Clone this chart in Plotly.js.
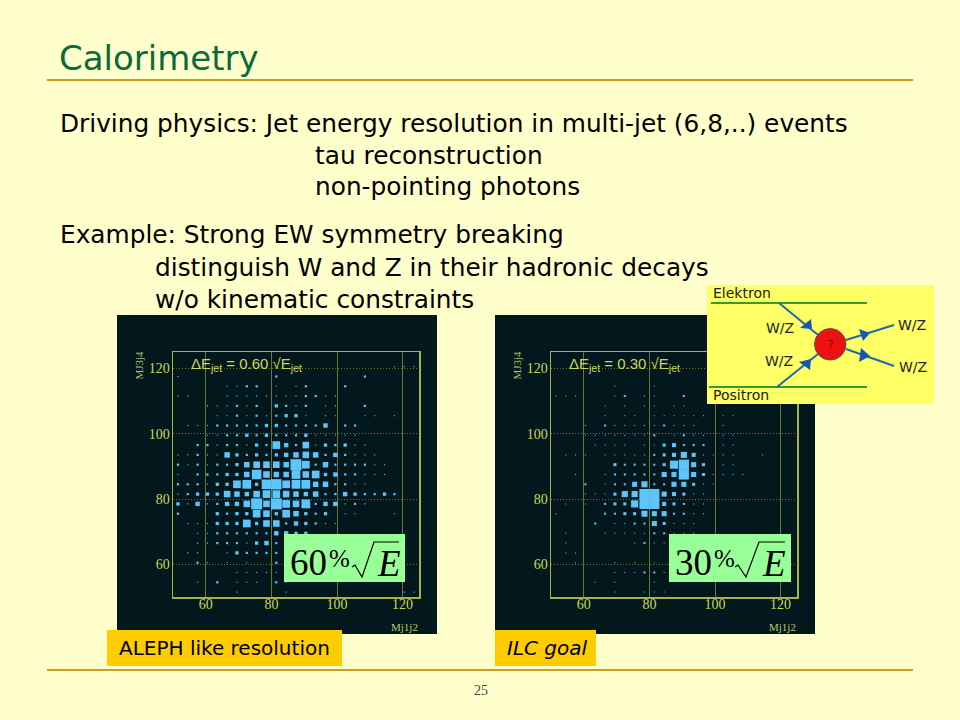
<!DOCTYPE html>
<html><head><meta charset="utf-8">
<script src="https://cdn.plot.ly/plotly-3.0.1.min.js"></script>
<style>html,body{margin:0;padding:0;background:#ffffcc}</style></head>
<body><div id="chart" style="width:960px;height:720px"></div>
<script>
// Bin centres of the two dijet-mass axes (GeV)
const massBins = [51.5,54.5,57.5,60.5,63.5,66.5,69.5,72.5,75.5,78.5,81.5,84.5,87.5,90.5,93.5,96.5,99.5,102.5,105.5,108.5,111.5,114.5,117.5,120.5,123.5];
const tickValues = [60,80,100,120];
// Box content per bin; rows run from low MJ3j4 to high MJ3j4
const counts60 = [
[0,0,0,0,0,0,1,0,0,0,0,1,0,0,0,0,0,0,0,0,0,0,0,1,1],
[0,0,1,0,4,0,1,1,1,0,4,1,0,0,0,0,0,0,0,0,0,0,0,0,0],
[0,0,0,0,0,0,1,1,1,1,1,1,0,0,0,0,0,0,0,0,0,0,0,0,0],
[0,0,4,1,0,1,0,1,0,0,4,0,0,0,0,0,0,0,0,0,0,0,0,0,0],
[0,1,1,0,0,1,9,4,4,4,4,0,0,0,0,0,0,0,0,0,0,0,0,0,0],
[0,0,1,1,4,4,4,1,9,16,4,0,0,0,0,0,0,0,0,0,0,0,0,0,0],
[0,0,1,1,4,4,4,4,4,4,16,16,9,9,0,0,0,0,0,0,0,0,0,0,0],
[0,1,1,1,9,9,9,49,9,36,36,4,16,9,4,1,1,0,0,0,0,0,0,0,0],
[4,0,0,0,9,4,9,9,49,36,9,49,25,9,4,9,0,1,1,0,0,0,1,0,0],
[9,1,16,1,4,16,16,36,100,36,100,49,36,64,4,16,16,1,4,1,0,0,0,0,0],
[1,4,9,9,9,36,25,16,36,49,49,36,25,16,25,4,4,16,9,4,4,9,4,0,0],
[4,4,4,1,9,9,49,64,9,76,88,49,64,64,25,25,4,4,1,1,0,0,0,0,0],
[1,0,4,4,4,9,9,25,76,36,25,25,64,36,49,9,16,4,4,1,1,1,0,0,0],
[4,1,4,1,4,4,9,25,36,36,36,25,100,49,4,25,4,4,4,4,1,1,0,0,0],
[1,1,4,1,1,25,9,4,9,4,9,16,25,36,25,4,16,4,1,1,1,0,0,0,0],
[0,0,4,4,1,4,4,1,9,4,49,16,4,36,1,9,4,9,1,1,0,0,0,0,0],
[0,0,0,1,1,4,4,9,4,9,4,4,4,9,1,1,1,1,1,0,0,0,0,0,0],
[0,1,1,1,4,4,4,4,4,9,9,4,4,4,4,16,0,4,4,0,0,0,0,0,0],
[0,0,0,0,1,1,4,1,4,1,4,9,9,1,0,1,1,0,0,1,1,0,1,0,0],
[0,0,0,1,1,1,4,1,4,0,9,4,1,4,0,1,1,0,0,4,0,0,0,0,0],
[1,1,0,0,0,1,1,1,1,1,1,1,1,4,4,1,1,0,0,0,0,0,0,0,0],
[0,0,0,0,0,1,1,4,4,0,1,0,1,4,0,0,0,4,0,0,0,0,0,0,0],
[1,0,0,0,0,0,0,0,0,0,4,0,0,0,0,0,0,0,0,4,0,0,0,0,0],
[0,0,0,0,0,0,0,0,0,0,0,0,0,0,0,0,0,0,0,0,0,0,1,1,1],
[0,0,0,0,0,0,0,0,0,0,0,0,0,0,0,0,0,0,0,0,0,0,0,0,0]
];
const counts30 = [
[0,0,0,0,0,0,1,0,0,1,1,1,0,0,0,0,0,0,0,0,0,0,0,0,0],
[0,0,0,0,1,0,1,0,0,0,1,0,0,0,0,0,0,0,0,0,0,0,0,0,0],
[0,0,0,0,0,0,1,1,1,4,4,1,0,0,0,0,0,0,0,0,0,0,0,0,0],
[0,0,1,0,0,0,1,0,1,0,1,0,0,0,0,0,0,0,0,0,0,0,0,0,0],
[0,1,1,0,0,0,0,0,0,0,0,0,0,0,0,0,0,0,0,0,0,0,0,0,0],
[0,1,0,0,0,0,0,0,1,4,1,1,1,0,0,0,0,0,0,0,0,0,0,0,0],
[0,1,0,0,0,1,1,1,1,1,4,4,1,1,1,0,0,0,0,0,0,0,0,0,0],
[0,0,0,0,4,0,1,1,4,4,25,9,1,1,1,0,0,0,0,0,0,0,0,0,0],
[1,0,0,0,0,4,4,9,9,36,25,25,4,4,1,1,0,0,0,0,0,0,0,0,0],
[0,1,0,1,0,4,9,9,49,100,100,16,9,4,1,1,0,0,0,0,0,0,0,0,0],
[0,0,0,1,1,1,9,36,36,100,100,25,16,9,1,1,0,0,0,0,0,0,0,0,0],
[0,0,0,4,0,1,4,4,25,36,4,4,25,25,9,1,1,0,0,0,0,0,0,0,0],
[0,0,1,0,0,1,4,4,4,4,4,25,25,100,25,9,1,1,1,1,0,0,0,0,0],
[0,0,0,0,0,0,9,4,4,4,4,9,64,100,25,9,0,1,1,0,0,0,0,0,0],
[0,1,1,1,0,1,1,1,1,1,4,9,16,36,16,1,1,1,1,0,0,1,0,0,0],
[0,0,0,0,1,1,1,1,0,1,1,9,16,4,4,4,0,1,1,0,0,0,0,0,0],
[0,0,0,1,1,1,1,1,1,1,4,0,1,4,1,1,0,1,1,0,0,0,0,0,0],
[0,0,0,1,0,4,1,1,1,1,1,4,1,1,1,0,0,1,0,0,0,0,0,0,0],
[0,0,0,0,0,1,0,1,1,0,1,1,1,1,1,1,0,1,1,0,0,0,0,0,0],
[0,0,0,0,0,1,0,1,0,1,1,0,1,1,0,0,0,0,0,0,0,0,0,0,0],
[1,1,1,0,0,0,1,4,0,1,1,0,0,4,0,0,0,0,0,0,0,0,0,0,0],
[0,0,0,0,0,0,1,0,0,0,1,0,0,0,0,0,0,0,0,0,0,0,0,0,0],
[0,0,0,0,0,0,0,0,0,0,0,0,0,0,0,0,0,0,0,0,0,0,0,0,0],
[0,0,0,0,0,0,0,0,0,0,0,0,0,0,0,0,0,0,0,0,0,0,0,0,0],
[0,0,0,0,0,0,0,0,0,0,0,0,0,0,0,0,0,0,0,0,0,0,0,0,0]
];
const bodyLines = [
 ["Driving physics: Jet energy resolution in multi-jet (6,8,..) events",59,123],
 ["tau reconstruction",314,155],
 ["non-pointing photons",314,187],
 ["Example: Strong EW symmetry breaking",59,235],
 ["distinguish W and Z in their hadronic decays",154,267],
 ["w/o kinematic constraints",154,299]
];

const W=960,H=720;
const px=x=>x/W, py=y=>1-y/H;
const BODY='"DejaVu Sans", sans-serif', SERIF='"Liberation Serif", serif', SANS='"DejaVu Sans", sans-serif';
const tickCol='#c8d85a', frameCol='#a8b24c', gridCol='#6c7634', darkBg='#03181c', boxCol='#5cc6fa';

function boxes(counts,xa,ya,scale){
  const x=[],y=[],s=[];
  counts.forEach((row,j)=>row.forEach((c,i)=>{ if(c>0){x.push(massBins[i]);y.push(massBins[j]);s.push(Math.sqrt(c)*scale);} }));
  return {type:'scatter',mode:'markers',x,y,xaxis:xa,yaxis:ya,hoverinfo:'skip',showlegend:false,
    marker:{symbol:'square',size:s,opacity:1,color:boxCol,line:{width:0}}};
}
function xAxis(l,r,anchor){return {domain:[px(l),px(r)],range:[50,125],anchor,tickvals:tickValues,ticks:'',ticklen:0,
  showgrid:true,gridcolor:gridCol,griddash:'solid',gridwidth:1,zeroline:false,showline:true,mirror:true,linecolor:frameCol,linewidth:1.5,
  tickfont:{family:SERIF,size:14,color:tickCol},ticklabelstandoff:-6};}
function yAxis(t,b,anchor){return {domain:[py(b),py(t)],range:[50,125],anchor,tickvals:tickValues,ticks:'',ticklen:0,
  showgrid:true,gridcolor:gridCol,griddash:'1px,2px',gridwidth:1,zeroline:false,showline:true,mirror:true,linecolor:frameCol,linewidth:1.5,
  tickfont:{family:SERIF,size:14,color:tickCol},ticklabelstandoff:-1};}

const rect=(x0,y0,x1,y1,fill,layer)=>({type:'rect',xref:'paper',yref:'paper',x0:px(x0),x1:px(x1),y0:py(y0),y1:py(y1),fillcolor:fill,line:{width:0},layer:layer||'below'});
const line=(x0,y0,x1,y1,color,w,layer)=>({type:'line',xref:'paper',yref:'paper',x0:px(x0),x1:px(x1),y0:py(y0),y1:py(y1),line:{color,width:w},layer:layer||'above'});
const poly=(pts,fill,lineCol,w)=>({type:'path',xref:'paper',yref:'paper',layer:'above',
  path:'M'+pts.map(p=>px(p[0])+','+py(p[1])).join(' L')+(fill?' Z':''),fillcolor:fill||'rgba(0,0,0,0)',line:{color:lineCol||'rgba(0,0,0,0)',width:w||0}});
const txt=(text,x,y,size,color,family,opts)=>Object.assign({text,x:px(x),y:py(y),xref:'paper',yref:'paper',xanchor:'left',yanchor:'middle',showarrow:false,borderpad:0,
  font:{size,color,family}},opts||{});

const shapes=[
  line(47,80,913,80,'#c8a020',2),
  line(47,670,913,670,'#c8a020',2),
  rect(117,315,437,634,darkBg),
  rect(495,315,815,634,darkBg),
  rect(284,534,405,582,'#99ff99','above'),
  rect(669,534,791,582,'#99ff99','above'),
  poly([[352,567],[355,565],[362,577],[374,542],[399,542]],null,'#000',1.2),
  poly([[735,567],[738,565],[746,577],[759,542],[785,542]],null,'#000',1.2),
  rect(107,630,342,666,'#ffcc00','above'),
  rect(495,630,596,666,'#ffcc00','above'),
  rect(707,285,934,404,'#ffff66','above'),
  line(711,303,867,303,'#3a9a2a',2),
  line(709,387,867,387,'#3a9a2a',2),
  line(779,303,818,335,'#1f6aa8',2),
  line(777,387,818,354,'#1f6aa8',2),
  line(846,340,894,325,'#1f6aa8',2),
  line(846,349,894,366,'#1f6aa8',2),
  poly([[800,328],[811,319],[812,329]],'#1458b0'),
  poly([[799,362],[810,370],[811,359]],'#1458b0'),
  poly([[859,329],[870,333],[863,341]],'#1458b0'),
  poly([[859,362],[870,356],[861,348]],'#1458b0'),
  {type:'circle',xref:'paper',yref:'paper',layer:'above',x0:px(814.5),x1:px(846),y0:py(360),y1:py(328.5),fillcolor:'#ee1111',line:{color:'#555',width:1}}
];

const ann=[
  txt('Calorimetry',58,58,34,'#0a6a3c',BODY),
  txt('25',481,690,14,'#444',SERIF,{xanchor:'center'}),
  txt('ALEPH like resolution',118,648,20,'#000',BODY),
  txt('<i>ILC goal</i>',506,648,20,'#000',BODY),
  txt('ΔE<sub>jet</sub> = 0.60 √E<sub>jet</sub>',190,364,15,tickCol,'"Liberation Sans", sans-serif'),
  txt('ΔE<sub>jet</sub> = 0.30 √E<sub>jet</sub>',568,364,15,tickCol,'"Liberation Sans", sans-serif'),
  txt('MJ3j4',138.5,365,11,'#b8c870',SERIF,{textangle:-90,xanchor:'center'}),
  txt('MJ3j4',516.5,365,11,'#b8c870',SERIF,{textangle:-90,xanchor:'center'}),
  txt('Mj1j2',404,627,11,'#b8c870',SERIF,{xanchor:'center'}),
  txt('Mj1j2',782,627,11,'#b8c870',SERIF,{xanchor:'center'}),
  txt('60',289,562,37,'#000',SERIF),
  txt('%',328,558,25,'#000',SERIF),
  txt('<i>E</i>',376,563,37,'#000',SERIF),
  txt('30',674,562,37,'#000',SERIF),
  txt('%',713,558,25,'#000',SERIF),
  txt('<i>E</i>',761,563,37,'#000',SERIF),
  txt('Elektron',712,293,14,'#222',SANS),
  txt('Positron',712,395,14,'#222',SANS),
  txt('W/Z',780,328,14,'#222',SANS,{xanchor:'center'}),
  txt('W/Z',779,361,14,'#222',SANS,{xanchor:'center'}),
  txt('W/Z',912,325,14,'#222',SANS,{xanchor:'center'}),
  txt('W/Z',913,367,14,'#222',SANS,{xanchor:'center'}),
  txt('?',830,344,10,'#800',SANS,{xanchor:'center'})
].concat(bodyLines.map(l=>txt(l[0],l[1],l[2],24.8,'#000',BODY)));

Plotly.newPlot('chart',[boxes(counts60,'x','y',1.1),boxes(counts30,'x2','y2',1.02)],{
  width:W,height:H,margin:{l:0,r:0,t:0,b:0},paper_bgcolor:'#ffffcc',plot_bgcolor:'rgba(0,0,0,0)',showlegend:false,
  xaxis:xAxis(173,419,'y'),yaxis:yAxis(352,597,'x'),
  xaxis2:xAxis(551,797,'y2'),yaxis2:yAxis(352,597,'x2'),
  shapes,annotations:ann
},{displayModeBar:false,staticPlot:true});
</script></body></html>
